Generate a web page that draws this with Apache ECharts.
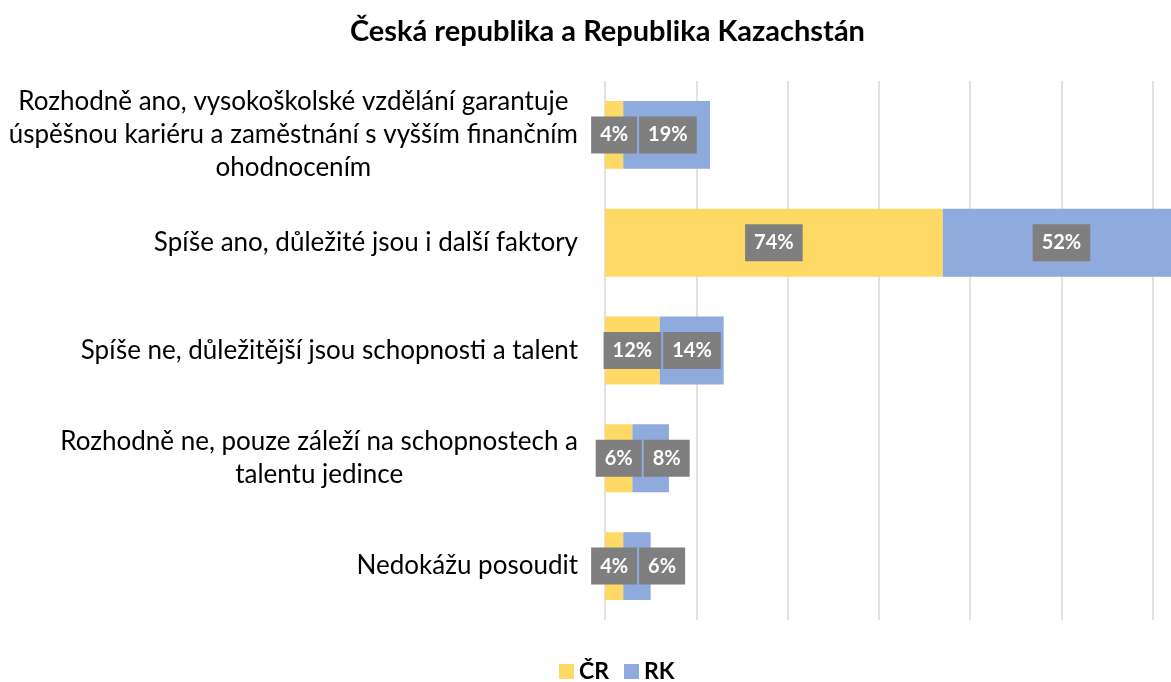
<!DOCTYPE html>
<html>

<head>
    <meta charset="utf-8">
    <script src="https://cdn.jsdelivr.net/npm/echarts@6/dist/echarts.min.js"></script>
    <style>
        html, body { margin: 0; padding: 0; background: #fff; }
        #main { width: 1171px; height: 682px; }
    </style>
</head>

<body>
    <div id="main"></div>
</body>
<script>
    // categories, top to bottom
    var categories = [
        'Rozhodně ano, vysokoškolské vzdělání garantuje\núspěšnou kariéru a zaměstnání s vyšším finančním\nohodnocením',
        'Spíše ano, důležité jsou i další faktory',
        'Spíše ne, důležitější jsou schopnosti a talent',
        'Rozhodně ne, pouze záleží na schopnostech a\ntalentu jedince',
        'Nedokážu posoudit'
    ];
    var seriesNames = ['ČR', 'RK'];
    var crValues = [4, 74, 12, 6, 4];
    var rkValues = [19, 52, 14, 8, 6];

    var font = 'Lato';
    var labelFont = 'bold 20px ' + font;
    var labelPad = 9;

    var labelStyle = {
        show: true,
        position: 'inside',
        formatter: '{c}%',
        color: '#fff',
        fontFamily: font,
        fontWeight: 'bold',
        fontSize: 20,
        backgroundColor: '#7f7f7f',
        padding: [9, labelPad, 8, labelPad]
    };

    var myChart = echarts.init(document.getElementById('main'));
    myChart.setOption({
        animation: false,
        title: {
            text: 'Česká republika a Republika Kazachstán',
            left: 345,
            top: 12,
            textStyle: { fontFamily: font, fontWeight: 'bold', fontSize: 29, color: '#000' }
        },
        legend: {
            data: seriesNames,
            bottom: -6,
            left: 554,
            itemWidth: 15,
            itemHeight: 15,
            itemGap: 15,
            icon: 'rect',
            textStyle: { fontFamily: font, fontWeight: 'bold', fontSize: 23, color: '#000' }
        },
        grid: {
            left: 605,
            top: 81,
            right: 0,
            height: 539,
            containLabel: false
        },
        xAxis: {
            type: 'value',
            min: 0,
            max: 124,
            interval: 20,
            axisLabel: { show: false },
            axisLine: { show: false },
            axisTick: { show: false },
            splitLine: { showMaxLine: false, lineStyle: { color: '#d9d9d9', width: 1.5 } }
        },
        yAxis: {
            type: 'category',
            inverse: true,
            data: categories,
            axisLine: { show: false },
            axisTick: { show: false },
            axisLabel: {
                margin: 27,
                color: '#000',
                fontFamily: font,
                fontSize: 26,
                lineHeight: 33,
                formatter: function (v) {
                    return v.split('\n').map(function (l) { return '{c|' + l + '}'; }).join('\n');
                },
                rich: {
                    c: { align: 'center', fontFamily: font, fontSize: 26, lineHeight: 33, color: '#000' }
                }
            }
        },
        series: [{
            name: seriesNames[0],
            type: 'bar',
            stack: 'a',
            barCategoryGap: '37%',
            itemStyle: { color: '#ffd966' },
            label: labelStyle,
            data: crValues
        }, {
            name: seriesNames[1],
            type: 'bar',
            stack: 'a',
            barCategoryGap: '37%',
            itemStyle: { color: '#8faadc' },
            label: labelStyle,
            data: rkValues
        }]
    });

    // push RK labels right so they sit beside the CR labels, like Excel does
    var ctx = document.createElement('canvas').getContext('2d');
    ctx.font = labelFont;
    function boxW(v) { return ctx.measureText(v + '%').width + 2 * labelPad; }
    function px(v) { return myChart.convertToPixel({ xAxisIndex: 0 }, v); }
    var right = px(124);
    var rkData = rkValues.map(function (v, i) {
        var cr = crValues[i];
        var crCenter = px(cr / 2);
        var want = Math.max(px(cr + v / 2), crCenter + boxW(cr) / 2 + 2 + boxW(v) / 2);
        var actual = (px(cr) + Math.min(px(cr + v), right)) / 2;
        return { value: v, label: { offset: [want - actual, 0] } };
    });
    myChart.setOption({ series: [{}, { data: rkData }] });
</script>

</html>
